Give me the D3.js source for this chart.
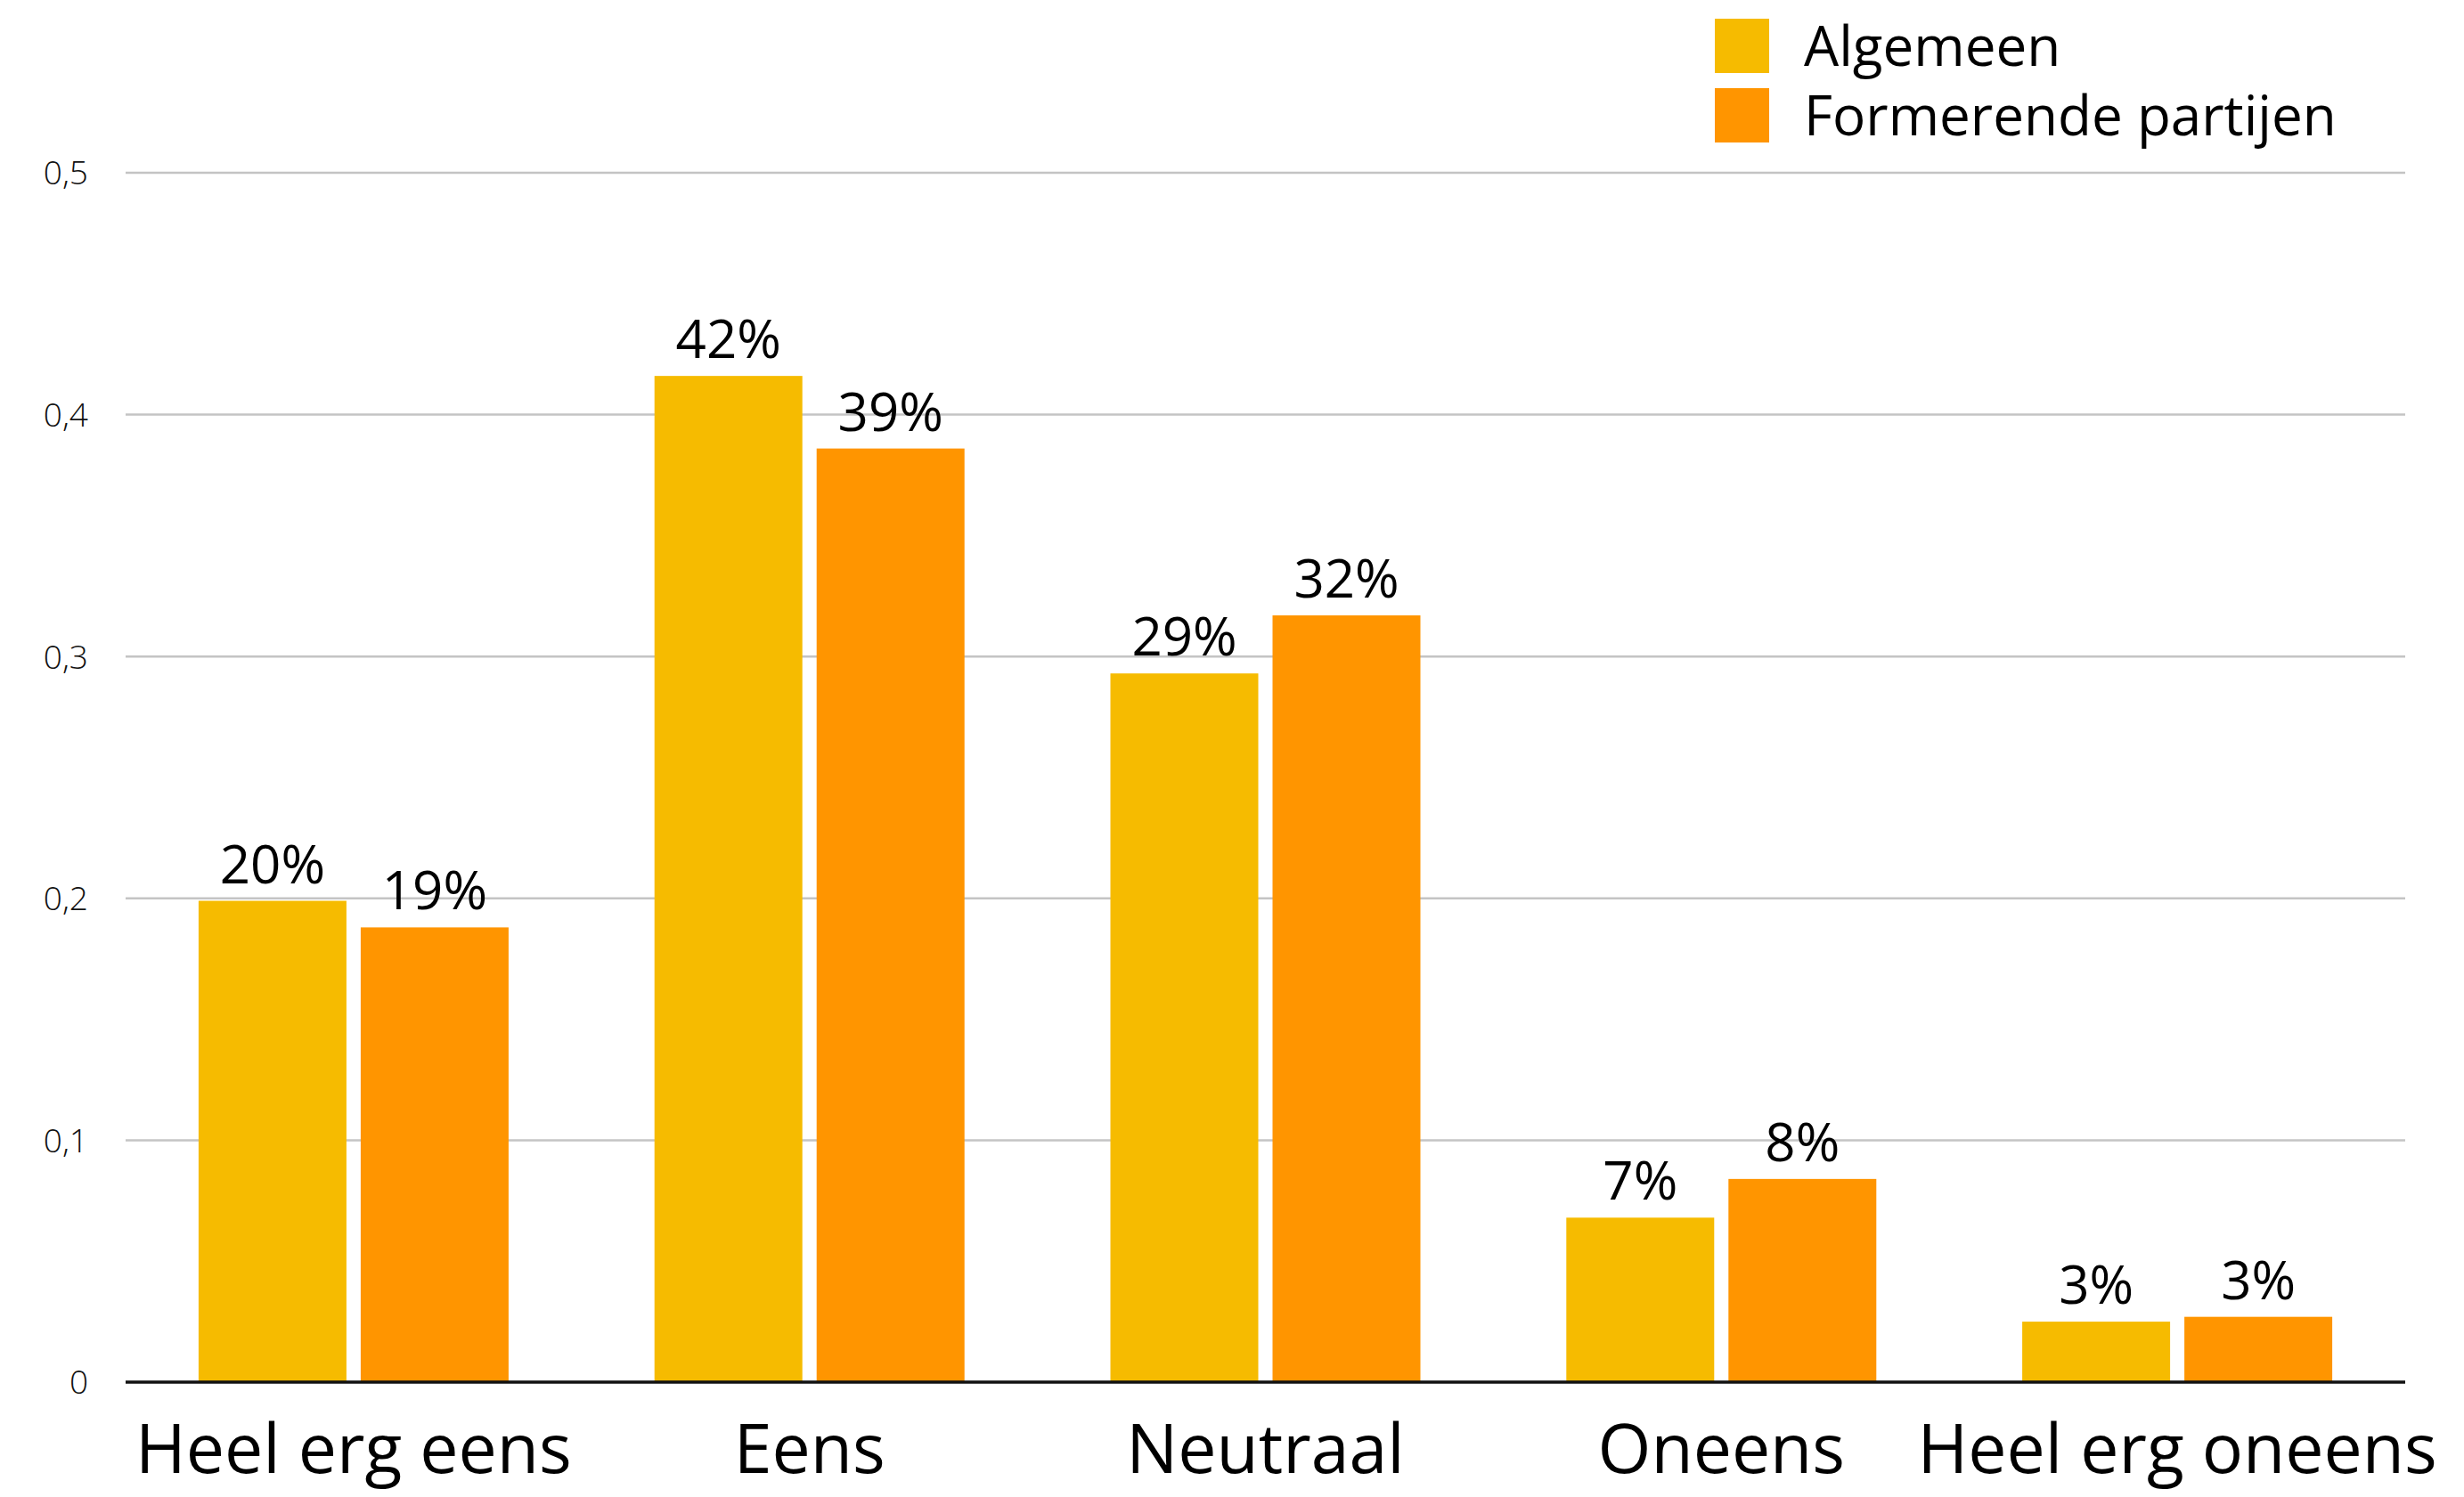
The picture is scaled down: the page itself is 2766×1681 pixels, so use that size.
<!DOCTYPE html>
<html>
<head>
<meta charset="utf-8">
<script src="https://cdn.jsdelivr.net/npm/d3@7"></script>
<style>
  html, body { margin: 0; padding: 0; background: #fff; }
  svg { display: block; }
</style>
</head>
<body>
<svg id="chart" width="2766" height="1681"></svg>
<script>
// data
const categories = ['Heel erg eens', 'Eens', 'Neutraal', 'Oneens', 'Heel erg oneens'];
const series = ['Algemeen', 'Formerende partijen'];
const algemeen = [0.199, 0.416, 0.293, 0.068, 0.025];
const formerend = [0.188, 0.386, 0.317, 0.084, 0.027];
const yTicks = [0, 0.1, 0.2, 0.3, 0.4, 0.5];

const colors = { 'Algemeen': '#f6bb00', 'Formerende partijen': '#ff9500' };
const FONT = "'Open Sans', 'Noto Sans', sans-serif";

const W = 2766, H = 1681;
const plotL = 141, plotR = 2700, plotT = 194, plotB = 1552;

const rows = categories.map((c, i) => ({
  cat: c,
  vals: [
    { s: series[0], v: algemeen[i] },
    { s: series[1], v: formerend[i] },
  ],
}));

const svg = d3.select('#chart');
svg.append('rect').attr('width', W).attr('height', H).attr('fill', '#fff');

const x0 = d3.scaleBand().domain(categories).range([plotL, plotR]).padding(0);
const x1 = d3.scaleBand().domain(series).range([0, x0.bandwidth()])
  .paddingInner(0.088).paddingOuter(0.45);
const y = d3.scaleLinear().domain([0, 0.5]).range([plotB, plotT]);

// gridlines (not at 0, that one is the baseline)
svg.append('g').selectAll('line').data(yTicks.filter(t => t > 0)).join('line')
  .attr('x1', plotL).attr('x2', plotR)
  .attr('y1', d => y(d)).attr('y2', d => y(d))
  .attr('stroke', '#c4c4c4').attr('stroke-width', 2.5);

// y tick labels
const fmtTick = d => d === 0 ? '0' : d3.format('.1f')(d).replace('.', ',');
svg.append('g').selectAll('text').data(yTicks).join('text')
  .attr('x', 99).attr('y', d => y(d)).attr('dy', '0.36em')
  .attr('text-anchor', 'end')
  .attr('font-family', FONT).attr('font-size', 37).attr('font-weight', 300)
  .attr('fill', '#111')
  .text(fmtTick);

// bars
const grp = svg.append('g').selectAll('g').data(rows).join('g')
  .attr('transform', d => `translate(${x0(d.cat)},0)`);

grp.selectAll('rect').data(d => d.vals).join('rect')
  .attr('x', d => x1(d.s)).attr('width', x1.bandwidth())
  .attr('y', d => y(d.v)).attr('height', d => plotB - y(d.v))
  .attr('fill', d => colors[d.s]);

grp.selectAll('text').data(d => d.vals).join('text')
  .attr('x', d => x1(d.s) + x1.bandwidth() / 2)
  .attr('y', d => y(d.v) - 20)
  .attr('text-anchor', 'middle')
  .attr('font-family', FONT).attr('font-size', 60)
  .attr('fill', '#000')
  .text(d => d3.format('.0%')(d.v));

// baseline
svg.append('line')
  .attr('x1', plotL).attr('x2', plotR).attr('y1', plotB).attr('y2', plotB)
  .attr('stroke', '#111').attr('stroke-width', 3.5);

// category labels
svg.append('g').selectAll('text').data(categories).join('text')
  .attr('x', d => x0(d) + x0.bandwidth() / 2)
  .attr('y', 1654)
  .attr('text-anchor', 'middle')
  .attr('font-family', FONT).attr('font-size', 77)
  .attr('fill', '#000')
  .text(d => d);

// legend
const leg = svg.append('g').selectAll('g').data(series).join('g')
  .attr('transform', (d, i) => `translate(1925,${21 + i * 78})`);
leg.append('rect').attr('width', 61).attr('height', 61).attr('fill', d => colors[d]);
leg.append('text')
  .attr('x', 100).attr('y', 53)
  .attr('font-family', FONT).attr('font-size', 62)
  .attr('fill', '#000')
  .text(d => d);
</script>
</body>
</html>
